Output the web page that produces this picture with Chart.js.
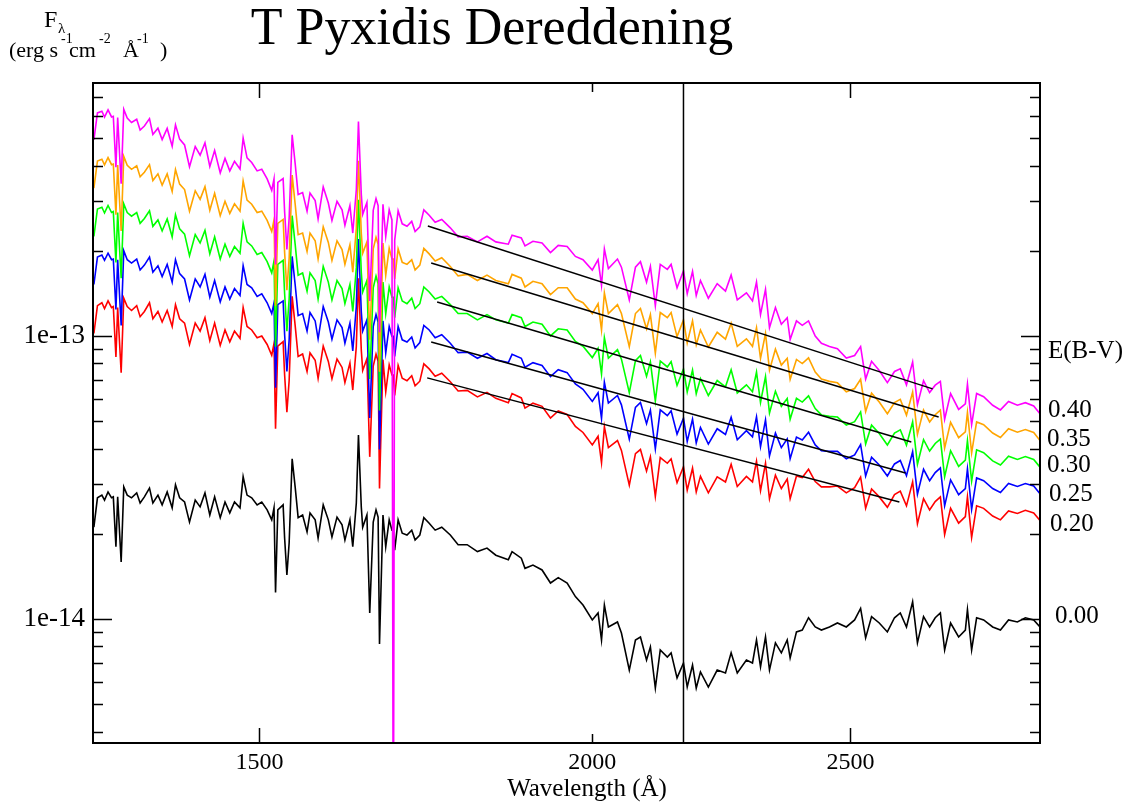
<!DOCTYPE html>
<html>
<head>
<meta charset="utf-8">
<title>T Pyxidis Dereddening</title>
<script src="https://cdn.jsdelivr.net/npm/chart.js@4.4.1/dist/chart.umd.min.js"></script>
<style>
  html, body { margin: 0; padding: 0; background: #fff; }
  #wrap { width: 1143px; height: 805px; }
</style>
</head>
<body>
<div id="wrap"><canvas id="chart" width="1143" height="805"></canvas></div>
<script>
// wavelengths in Angstrom, shared by every spectrum
const wavelength = [
  1300, 1304, 1309, 1312, 1316, 1320, 1322, 1325, 1327, 1331,
  1334, 1338, 1343, 1349, 1353, 1358, 1364, 1368, 1374, 1379,
  1385, 1391, 1395, 1400, 1406, 1412, 1419, 1425, 1431, 1437,
  1443, 1450, 1456, 1462, 1468, 1475, 1479, 1484, 1490, 1497,
  1503, 1510, 1516, 1519, 1521, 1524, 1531, 1533, 1536, 1539,
  1543, 1547, 1551, 1557, 1563, 1567, 1574, 1578, 1585, 1592,
  1597, 1604, 1611, 1615, 1622, 1626, 1631, 1634, 1638, 1640,
  1646, 1650, 1655, 1659, 1662, 1664, 1669, 1673, 1678, 1682,
  1684, 1686, 1691, 1697, 1704, 1711, 1716, 1723,
  1729, 1737, 1746, 1756, 1769, 1781, 1795, 1811, 1826, 1840,
  1860, 1866, 1881, 1887, 1900, 1915, 1929, 1942, 1957, 1971,
  1984, 2000, 2010, 2016, 2021, 2028, 2044, 2051, 2065, 2076,
  2085, 2096, 2103, 2112, 2121, 2134, 2141, 2152, 2164, 2171,
  2181, 2188, 2196, 2211, 2228, 2244, 2255, 2267, 2285, 2297,
  2305, 2313, 2323, 2331, 2343, 2355, 2367, 2373, 2386, 2398,
  2411, 2425, 2438, 2455, 2472, 2491, 2509, 2522, 2533, 2546,
  2563, 2581, 2597, 2610, 2624, 2638, 2649, 2663, 2677, 2690,
  2702, 2712, 2726, 2745, 2761, 2766, 2776, 2788, 2805, 2827,
  2846, 2866, 2888, 2908, 2929, 2945
];

// fluxes in units of 1e-14 erg s-1 cm-2 A-1
const fluxE000 = [
  2.11, 2.68, 2.74, 2.63, 2.81, 2.68, 2.70, 1.80, 2.70, 1.59,
  2.93, 2.74, 2.68, 2.79, 2.57, 2.70, 2.90, 2.57, 2.74, 2.53,
  2.81, 2.47, 2.98, 2.68, 2.59, 2.20, 2.63, 2.49, 2.79, 2.33,
  2.70, 2.28, 2.59, 2.37, 2.59, 2.47, 3.18, 2.74, 2.68, 2.53,
  2.59, 2.43, 2.24, 2.47, 1.24, 2.43, 2.53, 1.93, 1.43, 1.86,
  3.68, 2.93, 2.28, 2.33, 2.03, 2.37, 2.24, 1.93, 2.53, 2.24,
  1.95, 2.29, 2.15, 1.90, 2.24, 1.80, 2.57, 4.47, 2.49, 2.11,
  2.33, 1.05, 2.20, 2.43, 2.29, 0.816, 2.33, 1.80, 2.24, 2.06,
  2.06, 1.75, 2.24, 2.01, 1.98, 2.06, 1.90, 1.98,
  2.28, 2.18, 2.06, 2.11, 1.98, 1.83, 1.83, 1.73, 1.78, 1.68,
  1.62, 1.73, 1.64, 1.51, 1.55, 1.49, 1.34, 1.40, 1.34, 1.20,
  1.12, 0.992, 1.05, 0.843, 1.12, 0.937, 0.976, 0.892, 0.660, 0.843,
  0.864, 0.716, 0.796, 0.570, 0.777, 0.734, 0.759, 0.619, 0.699, 0.575,
  0.688, 0.570, 0.650, 0.575, 0.660, 0.645, 0.759, 0.645, 0.716, 0.699,
  0.843, 0.677, 0.864, 0.660, 0.823, 0.759, 0.843, 0.728, 0.900, 0.914,
  1.01, 0.937, 0.914, 0.937, 0.968, 0.937, 0.992, 1.09, 0.857, 1.02,
  0.968, 0.900, 1.01, 1.05, 0.937, 1.15, 0.823, 1.02, 0.937, 1.01,
  1.05, 0.777, 0.968, 0.864, 0.914, 1.08, 0.777, 1.01, 0.992, 0.937,
  0.914, 0.992, 0.976, 1.01, 0.992, 0.937
];

const fluxE020 = [
  10.2, 12.8, 13.1, 12.5, 13.3, 12.6, 12.7, 8.43, 12.6, 7.41,
  13.6, 12.7, 12.3, 12.8, 11.7, 12.2, 13.1, 11.5, 12.2, 11.2,
  12.3, 10.8, 12.9, 11.5, 11.1, 9.33, 11.1, 10.4, 11.6, 9.63,
  11.1, 9.26, 10.5, 9.53, 10.4, 9.81, 12.6, 10.8, 10.5, 9.85,
  10.0, 9.33, 8.55, 9.40, 4.70, 9.21, 9.55, 7.28, 5.38, 6.96,
  13.8, 10.9, 8.46, 8.63, 7.49, 8.71, 8.21, 7.08, 9.21, 8.13,
  7.06, 8.29, 7.74, 6.84, 8.03, 6.44, 9.19, 16.0, 8.93, 7.55,
  8.31, 3.74, 7.83, 8.62, 8.14, 2.89, 8.26, 6.35, 7.91, 7.28,
  7.28, 6.16, 7.88, 7.09, 6.95, 7.24, 6.67, 6.92,
  7.97, 7.65, 7.21, 7.38, 6.89, 6.39, 6.42, 6.09, 6.32, 6.02,
  5.81, 6.26, 6.04, 5.56, 5.79, 5.64, 5.13, 5.43, 5.28, 4.79,
  4.56, 4.12, 4.42, 3.57, 4.78, 4.03, 4.27, 3.94, 2.97, 3.84,
  3.97, 3.33, 3.74, 2.71, 3.72, 3.55, 3.68, 3.03, 3.45, 2.85,
  3.41, 2.81, 3.19, 2.79, 3.18, 3.05, 3.52, 2.94, 3.19, 3.05,
  3.61, 2.84, 3.55, 2.66, 3.22, 2.89, 3.12, 2.66, 3.20, 3.16,
  3.38, 3.06, 2.93, 2.93, 2.95, 2.79, 2.91, 3.17, 2.46, 2.88,
  2.70, 2.48, 2.75, 2.83, 2.51, 3.05, 2.17, 2.66, 2.43, 2.60,
  2.70, 1.99, 2.46, 2.18, 2.30, 2.70, 1.94, 2.51, 2.46, 2.31,
  2.24, 2.41, 2.36, 2.42, 2.37, 2.23
];

const fluxE025 = [
  15.2, 19.0, 19.3, 18.5, 19.6, 18.6, 18.7, 12.4, 18.6, 10.9,
  20.0, 18.6, 18.1, 18.7, 17.1, 17.8, 19.0, 16.8, 17.7, 16.2,
  17.9, 15.5, 18.6, 16.6, 15.9, 13.4, 15.9, 14.9, 16.5, 13.7,
  15.7, 13.2, 14.9, 13.5, 14.7, 13.9, 17.7, 15.2, 14.8, 13.8,
  14.1, 13.1, 12.0, 13.1, 6.56, 12.9, 13.3, 10.1, 7.49, 9.69,
  19.1, 15.2, 11.8, 12.0, 10.4, 12.1, 11.3, 9.77, 12.7, 11.2,
  9.74, 11.4, 10.7, 9.42, 11.1, 8.86, 12.7, 22.0, 12.2, 10.4,
  11.4, 5.13, 10.8, 11.9, 11.2, 3.97, 11.3, 8.71, 10.8, 9.97,
  9.97, 8.47, 10.8, 9.69, 9.52, 9.91, 9.07, 9.48,
  10.9, 10.5, 9.86, 10.1, 9.43, 8.73, 8.77, 8.34, 8.67, 8.24,
  8.05, 8.61, 8.34, 7.75, 8.05, 7.86, 7.18, 7.60, 7.42, 6.77,
  6.48, 5.87, 6.30, 5.11, 6.86, 5.79, 6.16, 5.71, 4.32, 5.59,
  5.82, 4.90, 5.47, 3.99, 5.48, 5.23, 5.44, 4.50, 5.12, 4.24,
  5.08, 4.19, 4.75, 4.15, 4.70, 4.49, 5.16, 4.30, 4.63, 4.40,
  5.18, 4.06, 5.05, 3.77, 4.54, 4.03, 4.33, 3.68, 4.39, 4.29,
  4.57, 4.12, 3.93, 3.91, 3.91, 3.68, 3.80, 4.13, 3.20, 3.73,
  3.50, 3.20, 3.53, 3.63, 3.21, 3.90, 2.76, 3.38, 3.08, 3.29,
  3.42, 2.51, 3.10, 2.75, 2.89, 3.39, 2.44, 3.15, 3.08, 2.89,
  2.80, 3.01, 2.94, 3.01, 2.95, 2.77
];

const fluxE030 = [
  22.5, 28.1, 28.5, 27.2, 28.9, 27.3, 27.5, 18.2, 27.3, 16.0,
  29.3, 27.3, 26.5, 27.3, 25.0, 26.0, 27.7, 24.4, 25.7, 23.5,
  25.9, 22.4, 26.8, 23.9, 22.9, 19.2, 22.8, 21.3, 23.6, 19.5,
  22.4, 18.7, 21.1, 19.1, 20.7, 19.6, 25.0, 21.5, 20.8, 19.4,
  19.7, 18.3, 16.7, 18.4, 9.16, 17.9, 18.5, 14.1, 10.4, 13.5,
  26.6, 21.1, 16.4, 16.7, 14.4, 16.7, 15.7, 13.5, 17.6, 15.5,
  13.4, 15.7, 14.7, 13.0, 15.2, 12.2, 17.4, 30.3, 16.8, 14.3,
  15.7, 7.05, 14.8, 16.3, 15.3, 5.45, 15.5, 12.0, 14.9, 13.7,
  13.7, 11.6, 14.8, 13.3, 13.0, 13.6, 12.5, 13.0,
  14.9, 14.3, 13.5, 13.8, 12.9, 12.0, 12.0, 11.4, 11.9, 11.4,
  11.1, 11.9, 11.6, 10.8, 11.2, 11.0, 10.0, 10.6, 10.5, 9.57,
  9.20, 8.39, 9.05, 7.34, 9.86, 8.34, 8.95, 8.28, 6.30, 8.18,
  8.53, 7.20, 8.10, 5.89, 8.16, 7.77, 8.12, 6.69, 7.64, 6.34,
  7.58, 6.25, 7.07, 6.16, 6.96, 6.61, 7.59, 6.29, 6.72, 6.35,
  7.45, 5.82, 7.18, 5.34, 6.38, 5.64, 6.01, 5.08, 6.02, 5.84,
  6.14, 5.54, 5.26, 5.20, 5.17, 4.84, 4.98, 5.39, 4.15, 4.84,
  4.52, 4.12, 4.54, 4.66, 4.11, 4.97, 3.52, 4.30, 3.92, 4.17,
  4.32, 3.18, 3.93, 3.46, 3.64, 4.27, 3.07, 3.96, 3.87, 3.62,
  3.50, 3.76, 3.66, 3.75, 3.66, 3.44
];

const fluxE035 = [
  33.3, 41.5, 42.1, 40.2, 42.7, 40.3, 40.5, 26.8, 40.2, 23.5,
  43.1, 40.1, 38.8, 39.9, 36.5, 37.9, 40.3, 35.4, 37.4, 34.1,
  37.4, 32.4, 38.7, 34.4, 32.9, 27.6, 32.6, 30.4, 33.7, 27.8,
  31.9, 26.6, 29.9, 27.1, 29.3, 27.6, 35.3, 30.2, 29.2, 27.3,
  27.6, 25.6, 23.4, 25.7, 12.8, 25.0, 25.8, 19.7, 14.5, 18.8,
  37.0, 29.3, 22.8, 23.1, 19.9, 23.1, 21.7, 18.7, 24.3, 21.4,
  18.5, 21.7, 20.2, 17.9, 21.0, 16.8, 24.0, 41.6, 23.1, 19.6,
  21.5, 9.69, 20.3, 22.3, 21.1, 7.48, 21.3, 16.4, 20.4, 18.7,
  18.7, 15.9, 20.3, 18.2, 17.9, 18.6, 17.1, 17.8,
  20.4, 19.5, 18.4, 18.9, 17.6, 16.3, 16.5, 15.7, 16.4, 15.7,
  15.3, 16.5, 16.0, 14.9, 15.6, 15.3, 14.0, 14.8, 14.8, 13.5,
  13.1, 12.0, 13.0, 10.5, 14.2, 12.0, 12.9, 12.0, 9.17, 12.0,
  12.5, 10.6, 11.9, 8.69, 12.1, 11.6, 12.1, 9.95, 11.4, 9.44,
  11.3, 9.31, 10.5, 9.14, 10.3, 9.75, 11.1, 9.19, 9.77, 9.19,
  10.7, 8.34, 10.2, 7.57, 8.98, 7.89, 8.34, 7.02, 8.26, 7.99,
  8.37, 7.45, 7.04, 6.91, 6.83, 6.35, 6.52, 7.03, 5.41, 6.28,
  5.84, 5.31, 5.82, 5.97, 5.25, 6.34, 4.49, 5.47, 4.97, 5.27,
  5.47, 4.02, 4.95, 4.37, 4.58, 5.37, 3.86, 4.97, 4.86, 4.54,
  4.38, 4.70, 4.57, 4.67, 4.56, 4.27
];

const fluxE040 = [
  49.3, 61.4, 62.2, 59.3, 62.9, 59.4, 59.7, 39.5, 59.1, 34.5,
  63.2, 58.9, 56.8, 58.3, 53.4, 55.2, 58.6, 51.5, 54.2, 49.4,
  54.1, 46.8, 55.7, 49.6, 47.3, 39.6, 46.7, 43.5, 48.1, 39.7,
  45.2, 37.7, 42.4, 38.3, 41.4, 38.9, 50.0, 42.6, 41.0, 38.3,
  38.8, 35.9, 32.7, 35.9, 17.9, 34.9, 36.0, 27.4, 20.2, 26.1,
  51.4, 40.7, 31.6, 32.1, 27.6, 32.0, 30.1, 25.9, 33.6, 29.5,
  25.6, 29.9, 27.9, 24.6, 28.9, 23.1, 32.9, 57.2, 31.7, 26.9,
  29.6, 13.3, 27.8, 30.6, 28.9, 10.3, 29.2, 22.5, 27.9, 25.7,
  0.1, 21.8, 27.7, 24.9, 24.4, 25.4, 23.4, 24.3,
  27.9, 26.7, 25.2, 25.8, 24.1, 22.4, 22.5, 21.5, 22.5, 21.5,
  21.1, 22.7, 22.2, 20.8, 21.6, 21.3, 19.7, 20.9, 20.7, 19.1,
  18.6, 17.1, 18.6, 15.1, 20.3, 17.3, 18.7, 17.5, 13.4, 17.5,
  18.3, 15.5, 17.6, 12.8, 17.9, 17.2, 17.9, 14.8, 17.0, 14.1,
  16.9, 13.9, 15.7, 13.6, 15.3, 14.4, 16.4, 13.4, 14.2, 13.3,
  15.5, 11.9, 14.6, 10.7, 12.6, 11.0, 11.6, 9.71, 11.3, 10.9,
  11.3, 10.0, 9.42, 9.18, 9.02, 8.35, 8.53, 9.17, 7.04, 8.14,
  7.55, 6.84, 7.49, 7.65, 6.72, 8.09, 5.72, 6.95, 6.31, 6.70,
  6.91, 5.08, 6.26, 5.50, 5.76, 6.76, 4.86, 6.26, 6.10, 5.69,
  5.48, 5.87, 5.69, 5.81, 5.66, 5.31
];

// straight power-law guides drawn over the dereddened spectra (E = 0.40 ... 0.20)
const fitStart = [1735, 1740, 1749, 1740, 1734];
const fitStartFlux = [24.47, 18.11, 13.19, 9.52, 7.11];
const fitEnd = [2684, 2698, 2635, 2622, 2608];
const fitEndFlux = [6.50, 5.17, 4.22, 3.28, 2.59];

const bumpWavelength = 2164;

const ebvLabels = ['E(B-V)', '0.40', '0.35', '0.30', '0.25', '0.20', '0.00'];

const xMin = 1299, xMax = 2945;
const yMin = 3.646e-15, yMax = 7.83e-13;
const xTicks = [1500, 2000, 2500];
const xLongTicks = [1500, 2500];
const yDecades = [1e-14, 1e-13];
const yMinorTicks = [4e-15, 5e-15, 6e-15, 7e-15, 8e-15, 9e-15,
  2e-14, 3e-14, 4e-14, 5e-14, 6e-14, 7e-14, 8e-14, 9e-14,
  2e-13, 3e-13, 4e-13, 5e-13, 6e-13, 7e-13];

const serif = '"Liberation Serif", "Times New Roman", Times, serif';

function points(values) {
  return wavelength.map((w, i) => ({ x: w, y: values[i] * 1e-14 }));
}

function spectrum(label, color, values) {
  return {
    label: label,
    data: points(values),
    borderColor: color,
    borderWidth: 1.6,
    pointRadius: 0,
    fill: false,
    tension: 0
  };
}

const fitDatasets = fitStart.map((w, i) => ({
  label: 'guide ' + i,
  data: [{ x: w, y: fitStartFlux[i] * 1e-14 }, { x: fitEnd[i], y: fitEndFlux[i] * 1e-14 }],
  borderColor: '#000',
  borderWidth: 1.5,
  pointRadius: 0
}));

const bumpLine = {
  label: '2175 bump',
  data: [{ x: bumpWavelength, y: yMin }, { x: bumpWavelength, y: yMax }],
  borderColor: '#000',
  borderWidth: 1.5,
  pointRadius: 0
};

// frame, inward ticks and all the free text
const decorations = {
  id: 'decorations',
  afterDraw(chart) {
    const { ctx, chartArea: a, scales } = chart;
    const x = scales.x, y = scales.y;
    ctx.save();
    ctx.strokeStyle = '#000';
    ctx.lineWidth = 2;
    ctx.strokeRect(a.left, a.top, a.right - a.left, a.bottom - a.top);

    ctx.lineWidth = 1.5;
    ctx.beginPath();
    xTicks.forEach(v => {
      const px = Math.round(x.getPixelForValue(v)) + 0.5;
      const len = xLongTicks.includes(v) ? 15 : 9;
      ctx.moveTo(px, a.bottom); ctx.lineTo(px, a.bottom - len);
      ctx.moveTo(px, a.top); ctx.lineTo(px, a.top + len);
    });
    yDecades.forEach(v => {
      const py = Math.round(y.getPixelForValue(v)) + 0.5;
      ctx.moveTo(a.left, py); ctx.lineTo(a.left + 19, py);
      ctx.moveTo(a.right, py); ctx.lineTo(a.right - 19, py);
    });
    yMinorTicks.forEach(v => {
      const py = Math.round(y.getPixelForValue(v)) + 0.5;
      ctx.moveTo(a.left, py); ctx.lineTo(a.left + 10, py);
      ctx.moveTo(a.right, py); ctx.lineTo(a.right - 10, py);
    });
    ctx.stroke();

    ctx.fillStyle = '#000';
    ctx.textBaseline = 'alphabetic';

    // title
    ctx.font = '52px ' + serif;
    ctx.textAlign = 'center';
    ctx.fillText('T Pyxidis Dereddening', 492, 44);

    // x axis title
    ctx.font = '25px ' + serif;
    ctx.fillText('Wavelength (\u00c5)', 587, 796);

    // y axis title, top left
    ctx.textAlign = 'left';
    ctx.font = '24px ' + serif;
    ctx.fillText('F', 44, 27);
    ctx.font = '15px ' + serif;
    ctx.fillText('\u03bb', 58, 33);
    ctx.font = '22px ' + serif;
    ctx.fillText('(erg s', 9, 57);
    ctx.fillText('cm', 69, 57);
    ctx.fillText('\u00c5', 123, 57);
    ctx.fillText(')', 160, 57);
    ctx.font = '14px ' + serif;
    ctx.fillText('-1', 61, 43);
    ctx.fillText('-2', 99, 43);
    ctx.fillText('-1', 137, 43);

    // E(B-V) labels on the right
    const labelPos = [[1048, 351], [1048, 410], [1047, 439], [1047, 465], [1049, 494], [1050, 524], [1055, 616]];
    ctx.font = '25px ' + serif;
    ctx.textBaseline = 'middle';
    ebvLabels.forEach((t, i) => ctx.fillText(t, labelPos[i][0], labelPos[i][1]));
    ctx.restore();
  }
};

new Chart(document.getElementById('chart'), {
  type: 'line',
  data: {
    datasets: [
      ...fitDatasets,
      bumpLine,
      spectrum('E(B-V)=0.40', '#ff00ff', fluxE040),
      spectrum('E(B-V)=0.35', '#ffa500', fluxE035),
      spectrum('E(B-V)=0.30', '#00ff00', fluxE030),
      spectrum('E(B-V)=0.25', '#0000ff', fluxE025),
      spectrum('E(B-V)=0.20', '#ff0000', fluxE020),
      spectrum('E(B-V)=0.00', '#000000', fluxE000)
    ]
  },
  options: {
    responsive: false,
    animation: false,
    events: [],
    layout: { padding: { top: 83, right: 103, left: 0, bottom: 0 } },
    plugins: {
      legend: { display: false },
      tooltip: { enabled: false }
    },
    scales: {
      x: {
        type: 'logarithmic',
        min: xMin,
        max: xMax,
        grid: { display: false, drawTicks: false },
        border: { display: false },
        afterBuildTicks: s => { s.ticks = xTicks.map(v => ({ value: v })); },
        afterFit: s => { s.height = 62; },
        ticks: {
          font: { family: serif, size: 24 },
          color: '#000',
          padding: 5,
          maxRotation: 0,
          autoSkip: false,
          callback: v => String(v)
        }
      },
      y: {
        type: 'logarithmic',
        min: yMin,
        max: yMax,
        grid: { display: false, drawTicks: false },
        border: { display: false },
        afterBuildTicks: s => { s.ticks = yDecades.map(v => ({ value: v })); },
        afterFit: s => { s.width = 93; },
        ticks: {
          font: { family: serif, size: 27 },
          color: '#000',
          padding: 8,
          autoSkip: false,
          callback: v => Number(v).toExponential(0)
        }
      }
    }
  },
  plugins: [decorations]
});
</script>
</body>
</html>
